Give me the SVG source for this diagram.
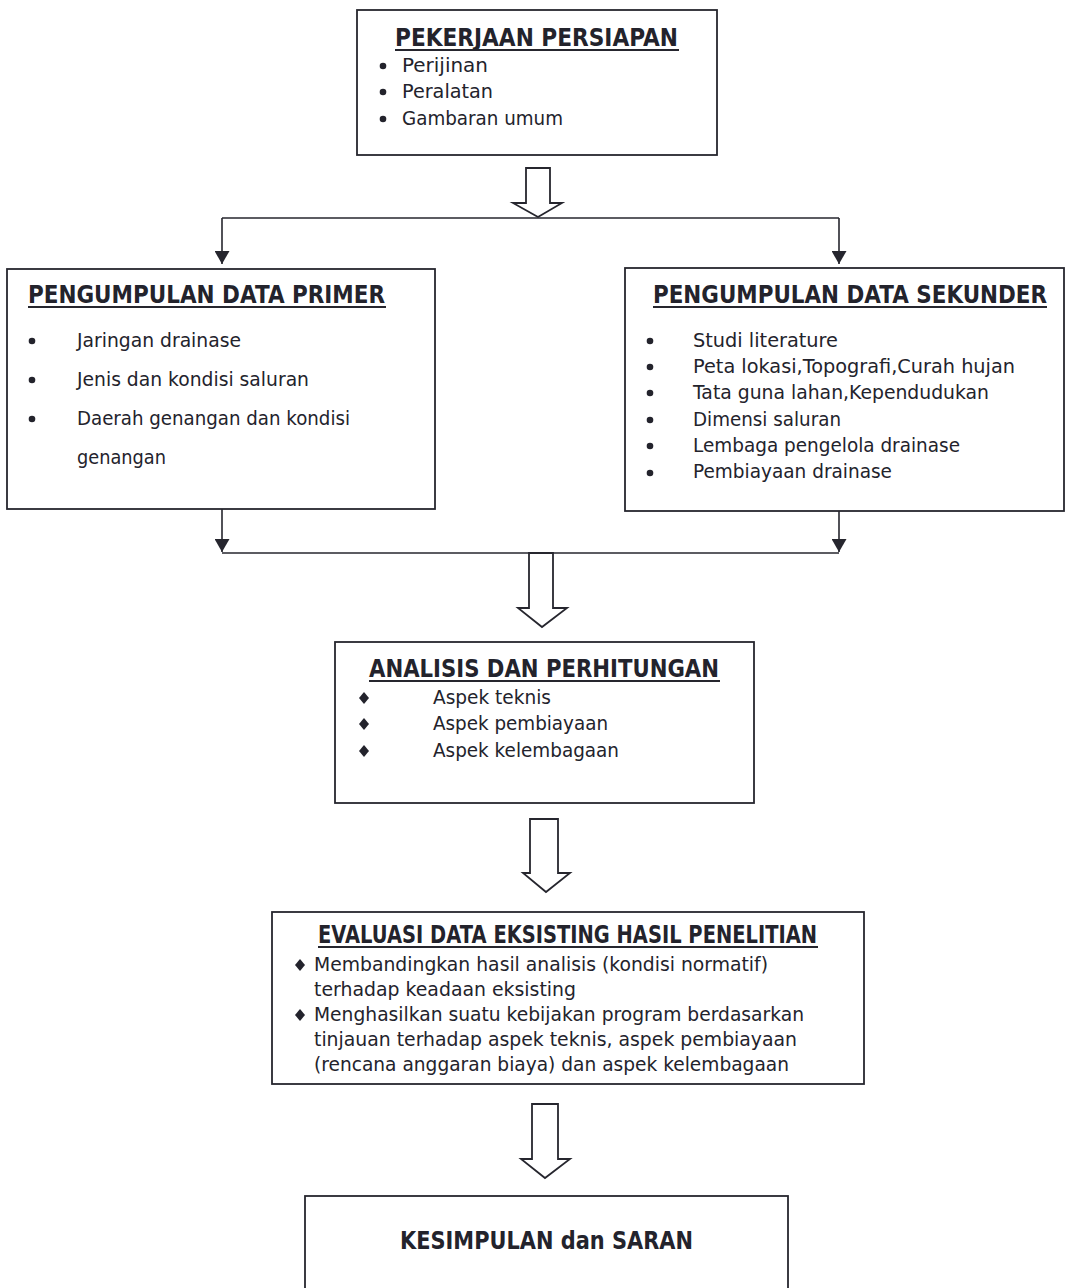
<svg xmlns="http://www.w3.org/2000/svg" width="1065" height="1288" viewBox="0 0 1065 1288">
  <style>
    .box { fill: #ffffff; stroke: #26262e; stroke-width: 1.8; }
    .title { font-family: "DejaVu Sans", "Liberation Sans", sans-serif; font-weight: bold; font-size: 24px; fill: #23232c; }
    .item { font-family: "DejaVu Sans", "Liberation Sans", sans-serif; font-size: 20px; fill: #23232c; }
    .item-s { font-family: "DejaVu Sans", "Liberation Sans", sans-serif; font-size: 19px; fill: #23232c; }
    .uline { stroke: #26262e; stroke-width: 2; }
    .dot { fill: #23232c; }
    .wire { fill: none; stroke: #26262e; stroke-width: 1.6; }
    .hollow { fill: #ffffff; stroke: #26262e; stroke-width: 1.8; stroke-linejoin: miter; }
  </style>
  <defs>
    <marker id="head" viewBox="0 0 13 15" refX="13" refY="7.5" markerWidth="13" markerHeight="15" markerUnits="userSpaceOnUse" orient="auto">
      <path d="M0,0 L13,7.5 L0,15 Z" fill="#26262e"/>
    </marker>
    <path id="diamond" d="M0,-6 L5,0 L0,6 L-5,0 Z"/>
  </defs>

  <rect width="1065" height="1288" fill="#ffffff"/>

  <!-- connectors -->
  <g id="connectors">
    <path class="wire" d="M222,218 H839"/>
    <path class="wire" d="M222,218 V264" marker-end="url(#head)"/>
    <path class="wire" d="M839,218 V264" marker-end="url(#head)"/>
    <path class="wire" d="M222,509 V552" marker-end="url(#head)"/>
    <path class="wire" d="M839,510 V552" marker-end="url(#head)"/>
    <path class="wire" d="M222,553 H839"/>
    <path class="hollow" d="M526,168 H550 V203 H562 L538,217 L513,203 H526 Z"/>
    <path class="hollow" d="M529,553 H553 V608 H567 L542,627 L518,608 H529 Z"/>
    <path class="hollow" d="M530,819 H558 V873 H570 L546,892 L523,873 H530 Z"/>
    <path class="hollow" d="M532,1104 H558 V1159 H570 L545,1178 L521,1159 H532 Z"/>
  </g>

  <!-- preparation -->
  <g id="persiapan">
    <rect class="box" x="357" y="10" width="360" height="145"/>
    <text class="title" x="395" y="46" textLength="283" lengthAdjust="spacingAndGlyphs">PEKERJAAN PERSIAPAN</text>
    <line class="uline" x1="395" y1="50" x2="679" y2="50"/>
    <circle class="dot" cx="383" cy="66" r="3.3"/>
    <circle class="dot" cx="383" cy="92" r="3.3"/>
    <circle class="dot" cx="383" cy="119" r="3.3"/>
    <text class="item" x="402" y="72" textLength="86" lengthAdjust="spacingAndGlyphs">Perijinan</text>
    <text class="item" x="402" y="98" textLength="91" lengthAdjust="spacingAndGlyphs">Peralatan</text>
    <text class="item" x="402" y="125" textLength="161" lengthAdjust="spacingAndGlyphs">Gambaran umum</text>
  </g>

  <!-- primary data -->
  <g id="data-primer">
    <rect class="box" x="7" y="269" width="428" height="240"/>
    <text class="title" x="28" y="303" textLength="357" lengthAdjust="spacingAndGlyphs">PENGUMPULAN DATA PRIMER</text>
    <line class="uline" x1="28" y1="307" x2="386" y2="307"/>
    <circle class="dot" cx="32" cy="341" r="3.3"/>
    <circle class="dot" cx="32" cy="380" r="3.3"/>
    <circle class="dot" cx="32" cy="419" r="3.3"/>
    <text class="item" x="77" y="347" textLength="164" lengthAdjust="spacingAndGlyphs">Jaringan drainase</text>
    <text class="item" x="77" y="386" textLength="232" lengthAdjust="spacingAndGlyphs">Jenis dan kondisi saluran</text>
    <text class="item" x="77" y="425" textLength="273" lengthAdjust="spacingAndGlyphs">Daerah genangan dan kondisi</text>
    <text class="item" x="77" y="464" textLength="89" lengthAdjust="spacingAndGlyphs">genangan</text>
  </g>

  <!-- secondary data -->
  <g id="data-sekunder">
    <rect class="box" x="625" y="268" width="439" height="243"/>
    <text class="title" x="653" y="303" textLength="394" lengthAdjust="spacingAndGlyphs">PENGUMPULAN DATA SEKUNDER</text>
    <line class="uline" x1="653" y1="307" x2="1047" y2="307"/>
    <circle class="dot" cx="650" cy="341" r="3.3"/>
    <circle class="dot" cx="650" cy="367" r="3.3"/>
    <circle class="dot" cx="650" cy="393" r="3.3"/>
    <circle class="dot" cx="650" cy="420" r="3.3"/>
    <circle class="dot" cx="650" cy="446" r="3.3"/>
    <circle class="dot" cx="650" cy="473" r="3.3"/>
    <text class="item" x="693" y="347" textLength="145" lengthAdjust="spacingAndGlyphs">Studi literature</text>
    <text class="item" x="693" y="373" textLength="322" lengthAdjust="spacingAndGlyphs">Peta lokasi,Topografi,Curah hujan</text>
    <text class="item" x="693" y="399" textLength="296" lengthAdjust="spacingAndGlyphs">Tata guna lahan,Kependudukan</text>
    <text class="item" x="693" y="426" textLength="148" lengthAdjust="spacingAndGlyphs">Dimensi saluran</text>
    <text class="item" x="693" y="452" textLength="267" lengthAdjust="spacingAndGlyphs">Lembaga pengelola drainase</text>
    <text class="item" x="693" y="478" textLength="199" lengthAdjust="spacingAndGlyphs">Pembiayaan drainase</text>
  </g>

  <!-- analysis -->
  <g id="analisis">
    <rect class="box" x="335" y="642" width="419" height="161"/>
    <text class="title" x="369" y="677" textLength="350" lengthAdjust="spacingAndGlyphs">ANALISIS DAN PERHITUNGAN</text>
    <line class="uline" x1="369" y1="681" x2="720" y2="681"/>
    <use href="#diamond" x="364" y="698" class="dot"/>
    <use href="#diamond" x="364" y="724" class="dot"/>
    <use href="#diamond" x="364" y="751" class="dot"/>
    <text class="item" x="433" y="704" textLength="118" lengthAdjust="spacingAndGlyphs">Aspek teknis</text>
    <text class="item" x="433" y="730" textLength="175" lengthAdjust="spacingAndGlyphs">Aspek pembiayaan</text>
    <text class="item" x="433" y="757" textLength="186" lengthAdjust="spacingAndGlyphs">Aspek kelembagaan</text>
  </g>

  <!-- evaluation -->
  <g id="evaluasi">
    <rect class="box" x="272" y="912" width="592" height="172"/>
    <text class="title" x="318" y="943" textLength="499" lengthAdjust="spacingAndGlyphs">EVALUASI DATA EKSISTING HASIL PENELITIAN</text>
    <line class="uline" x1="318" y1="947" x2="818" y2="947"/>
    <use href="#diamond" x="300" y="965" class="dot"/>
    <use href="#diamond" x="300" y="1015" class="dot"/>
    <text class="item-s" x="314" y="971" textLength="454" lengthAdjust="spacingAndGlyphs">Membandingkan hasil analisis (kondisi normatif)</text>
    <text class="item-s" x="314" y="996" textLength="262" lengthAdjust="spacingAndGlyphs">terhadap keadaan eksisting</text>
    <text class="item-s" x="314" y="1021" textLength="490" lengthAdjust="spacingAndGlyphs">Menghasilkan suatu kebijakan program berdasarkan</text>
    <text class="item-s" x="314" y="1046" textLength="483" lengthAdjust="spacingAndGlyphs">tinjauan terhadap aspek teknis, aspek pembiayaan</text>
    <text class="item-s" x="314" y="1071" textLength="475" lengthAdjust="spacingAndGlyphs">(rencana anggaran biaya) dan aspek kelembagaan</text>
  </g>

  <!-- conclusion -->
  <g id="kesimpulan">
    <rect class="box" x="305" y="1196" width="483" height="110"/>
    <text class="title" x="400" y="1249" textLength="293" lengthAdjust="spacingAndGlyphs">KESIMPULAN dan SARAN</text>
  </g>
</svg>
